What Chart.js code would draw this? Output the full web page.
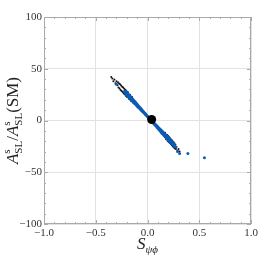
<!DOCTYPE html>
<html>
<head>
<meta charset="utf-8">
<script src="https://cdn.jsdelivr.net/npm/chart.js@4"></script>
<style>
  html, body { margin: 0; padding: 0; background: #fff; }
  #wrap { width: 269px; height: 256px; }
</style>
</head>
<body>
<div id="wrap"><canvas id="scan"></canvas></div>
<script>
// blue band
const blueX = [-0.30, -0.22, -0.22, -0.21, -0.21, -0.20, -0.20, -0.19, -0.19, -0.18, -0.18, -0.17, -0.17,
  -0.16, -0.16, -0.15, -0.15, -0.14, -0.14, -0.13, -0.13, -0.12, -0.12, -0.11, -0.11, -0.10, -0.10,
  -0.09, -0.09, -0.08, -0.08, -0.07, -0.07, -0.06, -0.06, -0.05, -0.05, -0.04, -0.04, -0.03, -0.03,
  -0.02, -0.02, -0.01, -0.01, 0.00, 0.00, 0.01, 0.01, 0.02, 0.02, 0.03, 0.03,
  0.05, 0.05, 0.06, 0.06, 0.07, 0.07, 0.08, 0.08, 0.09, 0.09, 0.10, 0.10, 0.11, 0.11, 0.12, 0.12,
  0.13, 0.13, 0.14, 0.14, 0.15, 0.15, 0.16, 0.16, 0.17, 0.17, 0.18, 0.18, 0.19, 0.19, 0.20, 0.20,
  0.21, 0.21, 0.22, 0.22, 0.23, 0.23, 0.24, 0.24, 0.25, 0.25, 0.26, 0.26, 0.27,
  0.29, 0.31, 0.39, 0.55];
const blueY = [35, 28.5, 27.5, 28.2, 25.6, 24.3, 27.0, 26.0, 23.1, 22.2, 24.8, 23.8, 21.0,
  20.1, 22.6, 21.5, 19.0, 18.1, 20.3, 19.1, 17.0, 16.1, 18.0, 16.9, 15.0, 14.0, 15.7,
  14.6, 12.9, 12.0, 13.3, 12.2, 11.0, 10.0, 11.0, 9.8, 9.0, 7.9, 8.7, 7.6, 6.9,
  5.9, 6.5, 5.3, 4.8, 3.8, 4.2, 3.1, 2.7, 1.6, 2.0, 0.9, 0.6,
  -1.7, -1.1, -2.2, -2.8, -4.0, -3.2, -4.1, -5.1, -6.3, -5.1, -6.2, -7.5, -8.7, -7.2, -8.2, -9.9,
  -11.1, -9.1, -10.1, -12.2, -13.3, -11.1, -12.2, -14.4, -15.6, -13.2, -14.2, -16.7, -17.8, -15.2, -16.2, -19.0,
  -20.0, -17.3, -18.5, -21.1, -22.1, -19.6, -20.8, -22.9, -24.0, -22.0, -23.5, -25.0, -25.5,
  -30, -32, -32, -36];

// black points at the two ends of the band
const blackX = [-0.35, -0.34, -0.33, -0.32, -0.31, -0.30, -0.29, -0.285, -0.28, -0.275, -0.27, -0.265, -0.26, -0.255, -0.25,
  -0.245, -0.24, -0.235, -0.23, -0.225, -0.22, -0.215, -0.21, -0.205, -0.20, -0.19, -0.18, -0.17, -0.16, -0.15, -0.14,
  0.17, 0.18, 0.19, 0.195, 0.20, 0.205, 0.21, 0.215, 0.22, 0.225, 0.23, 0.235, 0.24, 0.245, 0.25,
  0.255, 0.26, 0.265, 0.27, 0.275, 0.28, 0.29, 0.30, 0.31];
const blackY = [42, 40.5, 38, 39.5, 36, 38, 34, 37, 32, 35.8, 31, 35, 29.5, 33.8, 28.5,
  32.5, 27.5, 31.8, 26.2, 30.6, 25.3, 29.8, 24, 28.8, 23, 27.5, 21, 25, 19, 22.8, 17.5,
  -11.8, -18, -14, -19.8, -15, -20.8, -16.3, -21.8, -17.3, -22.8, -18.5, -23.8, -19.6, -25, -20.8,
  -26, -22, -27, -23.5, -27.5, -25.5, -29, -27.5, -30];

// SM point
const smX = [0.04];
const smY = [1];

// axis ticks
const xMajor = [-1, -0.5, 0, 0.5, 1];
const yMajor = [-100, -50, 0, 50, 100];
const xMinor = [-0.9, -0.8, -0.7, -0.6, -0.4, -0.3, -0.2, -0.1, 0.1, 0.2, 0.3, 0.4, 0.6, 0.7, 0.8, 0.9];
const yMinor = [-90, -80, -70, -60, -40, -30, -20, -10, 10, 20, 30, 40, 60, 70, 80, 90];

const pts = (xs, ys) => xs.map((x, i) => ({ x: x, y: ys[i] }));
const minus = s => s.replace('-', '\u2212');
const serif = (size, italic) => (italic ? 'italic ' : '') + size + 'px "Liberation Serif"';

// sub/superscript titles, drawn as canvas text
function drawRich(ctx, segs, cx, cy, rot) {
  ctx.save();
  ctx.translate(cx, cy);
  if (rot) ctx.rotate(rot);
  const widths = segs.map(s => {
    if (s.sup !== undefined) {
      ctx.font = serif(s.size, false);
      return Math.max(ctx.measureText(s.sup).width, ctx.measureText(s.sub).width);
    }
    ctx.font = serif(s.size, s.italic);
    return ctx.measureText(s.t).width;
  });
  const total = widths.reduce((a, b) => a + b, 0);
  let x = -total / 2;
  ctx.fillStyle = '#222';
  ctx.textBaseline = 'alphabetic';
  segs.forEach((s, i) => {
    if (s.sup !== undefined) {
      ctx.font = serif(s.size, false);
      ctx.fillText(s.sup, x, -8);
      ctx.fillText(s.sub, x, 4);
    } else {
      ctx.font = serif(s.size, s.italic);
      ctx.fillText(s.t, x, s.dy || 0);
    }
    x += widths[i];
  });
  ctx.restore();
}

const framePlugin = {
  id: 'frame',
  afterDraw(chart) {
    const { ctx, chartArea: a, scales } = chart;
    ctx.save();
    ctx.strokeStyle = '#aaa';
    ctx.lineWidth = 1;
    ctx.strokeRect(a.left + 0.5, a.top + 0.5, a.right - a.left - 1, a.bottom - a.top - 1);
    ctx.beginPath();
    const tickX = (v, len) => {
      const p = Math.round(scales.x.getPixelForValue(v)) + 0.5;
      ctx.moveTo(p, a.bottom); ctx.lineTo(p, a.bottom - len);
      ctx.moveTo(p, a.top); ctx.lineTo(p, a.top + len);
    };
    const tickY = (v, len) => {
      const p = Math.round(scales.y.getPixelForValue(v)) + 0.5;
      ctx.moveTo(a.left, p); ctx.lineTo(a.left + len, p);
      ctx.moveTo(a.right, p); ctx.lineTo(a.right - len, p);
    };
    xMajor.forEach(v => tickX(v, 4));
    xMinor.forEach(v => tickX(v, 2));
    yMajor.forEach(v => tickY(v, 4));
    yMinor.forEach(v => tickY(v, 2));
    ctx.stroke();
    ctx.restore();

    drawRich(ctx, [
      { t: 'S', size: 17, italic: true },
      { t: '\u03c8\u03d5', size: 11, italic: true, dy: 4 }
    ], (a.left + a.right) / 2, 249);

    drawRich(ctx, [
      { t: 'A', size: 17, italic: true },
      { sup: 's', sub: 'SL', size: 11 },
      { t: '/', size: 17 },
      { t: 'A', size: 17, italic: true },
      { sup: 's', sub: 'SL', size: 11 },
      { t: '(SM)', size: 17 }
    ], 18, (a.top + a.bottom) / 2, -Math.PI / 2);
  }
};

const tickFont = { family: '"Liberation Serif", "Times New Roman", serif', size: 11 };

new Chart(document.getElementById('scan'), {
  type: 'scatter',
  data: {
    datasets: [
      { data: pts(smX, smY), pointRadius: 4.5, backgroundColor: '#000', borderWidth: 0, order: 0 },
      { data: pts(blueX, blueY), pointRadius: 1.5, backgroundColor: 'rgb(12,92,180)', borderWidth: 0, order: 1 },
      { data: pts(blackX, blackY), pointRadius: 1, backgroundColor: '#111', borderWidth: 0, order: 2 }
    ]
  },
  options: {
    responsive: true,
    maintainAspectRatio: false,
    animation: false,
    layout: { padding: { top: 17, right: 18, left: 0, bottom: 0 } },
    plugins: { legend: { display: false }, tooltip: { enabled: false } },
    scales: {
      x: {
        type: 'linear',
        min: -1, max: 1,
        afterFit: s => { s.height = 32; },
        afterBuildTicks: s => { s.ticks = xMajor.map(v => ({ value: v })); },
        grid: { color: '#e2e2e2', drawTicks: false },
        border: { display: false },
        ticks: {
          padding: 3,
          color: '#333',
          font: tickFont,
          maxRotation: 0,
          autoSkip: false,
          callback: v => minus(v.toFixed(1))
        }
      },
      y: {
        type: 'linear',
        min: -100, max: 100,
        afterFit: s => { s.width = 44; },
        afterBuildTicks: s => { s.ticks = yMajor.map(v => ({ value: v })); },
        grid: { color: '#e2e2e2', drawTicks: false },
        border: { display: false },
        ticks: {
          padding: 2,
          color: '#333',
          font: tickFont,
          autoSkip: false,
          callback: v => minus(String(v))
        }
      }
    }
  },
  plugins: [framePlugin]
});
</script>
</body>
</html>
